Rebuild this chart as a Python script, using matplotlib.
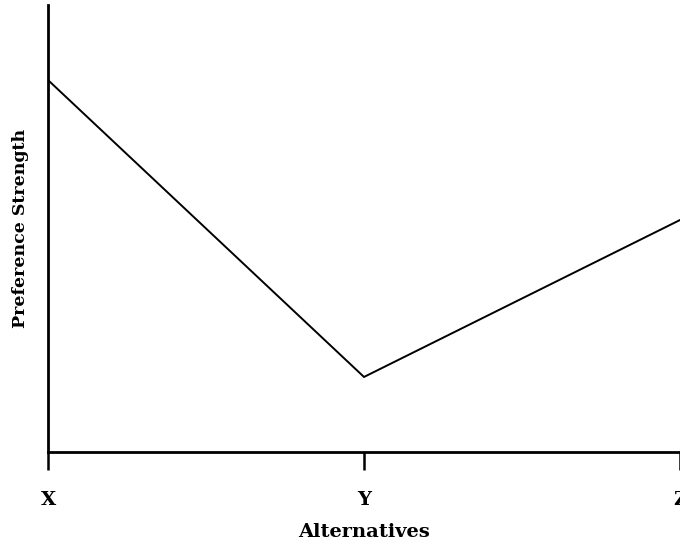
import matplotlib
matplotlib.use("Agg")
import matplotlib.pyplot as plt

# alternatives and preference strength (arbitrary units)
alternatives = ["X", "Y", "Z"]
strength = [8.32, 1.68, 5.19]

plt.rcParams['font.family'] = ['DejaVu Serif']

fig = plt.figure(figsize=(6.8, 5.46), dpi=100)
ax = fig.add_axes([0.0706, 0.172, 0.9294, 0.819])

pos = list(range(len(alternatives)))
ax.plot(pos, strength, color='black', lw=1.4, solid_joinstyle='miter')

ax.set_xlim(0, 2)
ax.set_ylim(0, 10)

ax.spines['top'].set_visible(False)
ax.spines['right'].set_visible(False)
ax.spines['left'].set_linewidth(2)
ax.spines['bottom'].set_linewidth(2)

ax.set_yticks([])
ax.set_xticks(pos)
ax.set_xticklabels(alternatives, fontsize=14, fontweight='bold')
ax.tick_params(axis='x', direction='out', length=13, width=1.8, pad=15)

ax.set_xlabel("Alternatives", fontsize=14, fontweight='bold', labelpad=10)
ax.set_ylabel("Preference Strength", fontsize=12.5, fontweight='bold', labelpad=14)

fig.savefig("out.png", dpi=100)
